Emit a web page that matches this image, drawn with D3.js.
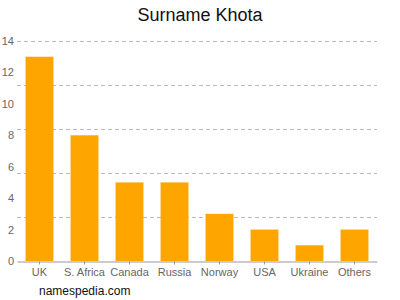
<!DOCTYPE html>
<html>
<head>
<meta charset="utf-8">
<script src="https://cdn.jsdelivr.net/npm/d3@7"></script>
<style>
  body { margin: 0; background: #fff; }
  text { font-family: "Liberation Sans", Arial, sans-serif; }
</style>
</head>
<body>
<svg width="400" height="300"></svg>
<script>
var countries = ["UK", "S. Africa", "Canada", "Russia", "Norway", "USA", "Ukraine", "Others"];
var counts = [13, 8, 5, 5, 3, 2, 1, 2];
var yTicks = [0, 2, 4, 6, 8, 10, 12, 14];
var gridValues = [2.8, 5.6, 8.4, 11.2, 14];

var plotLeft = 17, plotRight = 377, plotTop = 41, plotBottom = 261;
var svg = d3.select("svg");

var xScale = d3.scaleBand()
  .domain(countries)
  .range([plotLeft, plotRight])
  .paddingInner(0.38)
  .paddingOuter(0.19);

var yScale = d3.scaleLinear()
  .domain([0, 14])
  .range([plotBottom, plotTop]);

// dashed grid
svg.append("g")
  .selectAll("line")
  .data(gridValues)
  .enter()
  .append("line")
  .attr("x1", plotLeft)
  .attr("x2", plotRight)
  .attr("y1", (d) => Math.round(yScale(d)) + 0.5)
  .attr("y2", (d) => Math.round(yScale(d)) + 0.5)
  .attr("stroke", "#bbb")
  .attr("stroke-dasharray", "4,3");

// bars
svg.append("g")
  .selectAll("rect")
  .data(counts)
  .enter()
  .append("rect")
  .attr("x", (d, i) => xScale(countries[i]))
  .attr("y", (d) => yScale(d))
  .attr("width", xScale.bandwidth())
  .attr("height", (d) => plotBottom - yScale(d))
  .attr("fill", "#ffa500");

// y axis labels
var yAxis = d3.axisLeft(yScale).tickValues(yTicks).tickSize(0).tickPadding(3);
var yg = svg.append("g")
  .attr("transform", `translate(${plotLeft}, 0)`)
  .call(yAxis);
yg.select(".domain").remove();
yg.selectAll("text")
  .attr("fill", "#666")
  .style("font-size", "11px")
  .style("font-family", "Liberation Sans, Arial, sans-serif");

// x axis
var xAxis = d3.axisBottom(xScale).tickSize(3).tickSizeOuter(0).tickPadding(4);
var xg = svg.append("g")
  .attr("transform", `translate(0, ${plotBottom + 0.5})`)
  .call(xAxis);
xg.select(".domain").attr("stroke", "#999");
xg.selectAll(".tick line").attr("stroke", "#999");
xg.selectAll("text")
  .attr("fill", "#666")
  .style("font-size", "11px")
  .style("font-family", "Liberation Sans, Arial, sans-serif");

// title
svg.append("text")
  .attr("x", 200)
  .attr("y", 21)
  .style("text-anchor", "middle")
  .style("font-size", "18px")
  .attr("fill", "#111")
  .text("Surname Khota");

// footer
svg.append("text")
  .attr("x", 39)
  .attr("y", 295)
  .style("font-size", "12px")
  .attr("fill", "#111")
  .text("namespedia.com");
</script>
</body>
</html>
